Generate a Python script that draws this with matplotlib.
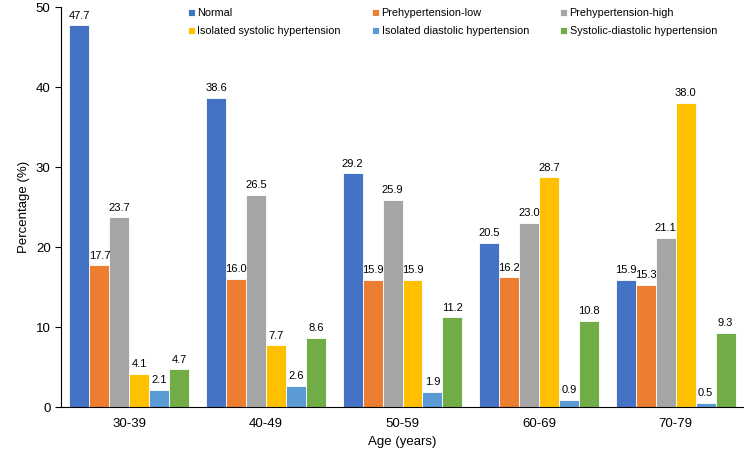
import matplotlib
matplotlib.use("Agg")
import matplotlib.pyplot as plt
import numpy as np

plt.rcParams["font.family"] = ["Liberation Sans", "DejaVu Sans"]

# Data
age_groups = ["30-39", "40-49", "50-59", "60-69", "70-79"]
series_names = [
    "Normal",
    "Prehypertension-low",
    "Prehypertension-high",
    "Isolated systolic hypertension",
    "Isolated diastolic hypertension",
    "Systolic-diastolic hypertension",
]
normal = [47.7, 38.6, 29.2, 20.5, 15.9]
prehyp_low = [17.7, 16.0, 15.9, 16.2, 15.3]
prehyp_high = [23.7, 26.5, 25.9, 23.0, 21.1]
isolated_systolic = [4.1, 7.7, 15.9, 28.7, 38.0]
isolated_diastolic = [2.1, 2.6, 1.9, 0.9, 0.5]
systolic_diastolic = [4.7, 8.6, 11.2, 10.8, 9.3]

colors = ["#4472C4", "#ED7D31", "#A5A5A5", "#FFC000", "#5B9BD5", "#70AD47"]
all_series = [normal, prehyp_low, prehyp_high, isolated_systolic,
              isolated_diastolic, systolic_diastolic]

fig = plt.figure(figsize=(7.44, 4.51), dpi=100)
ax = fig.add_axes([61 / 744, 44 / 451, 683 / 744, 400 / 451])

x = np.arange(len(age_groups))
width = 0.146
n = len(all_series)
handles = []
for i, (name, vals, c) in enumerate(zip(series_names, all_series, colors)):
    pos = x + (i - (n - 1) / 2) * width
    bars = ax.bar(pos, vals, width, color=c, edgecolor="white",
                  linewidth=0.6, label=name)
    handles.append(bars)
    for b, v in zip(bars, vals):
        ax.text(b.get_x() + b.get_width() / 2, v + 0.6, f"{v:.1f}",
                ha="center", va="bottom", fontsize=8)

ax.set_xlim(-0.5, len(age_groups) - 0.5)
ax.set_ylim(0, 50)
ax.set_yticks([0, 10, 20, 30, 40, 50])
ax.set_xticks(x)
ax.set_xticklabels(age_groups, fontsize=9.5)
ax.tick_params(axis="y", labelsize=9.5, length=4, direction="out")
ax.tick_params(axis="x", length=0, pad=8)
ax.spines["top"].set_visible(False)
ax.spines["right"].set_visible(False)
ax.set_ylabel("Percentage (%)", fontsize=9.5)
ax.set_xlabel("Age (years)", fontsize=9.5, labelpad=4)

# row-major legend order
order = [0, 3, 1, 4, 2, 5]
ax.legend([handles[k] for k in order], [series_names[k] for k in order],
          loc="upper left", bbox_to_anchor=(0.172, 1.022), ncol=3,
          frameon=False, fontsize=7.8, handlelength=0.6, handleheight=0.6,
          handletextpad=0.25, columnspacing=2.9, labelspacing=0.78)

plt.savefig("out.png", dpi=100)
